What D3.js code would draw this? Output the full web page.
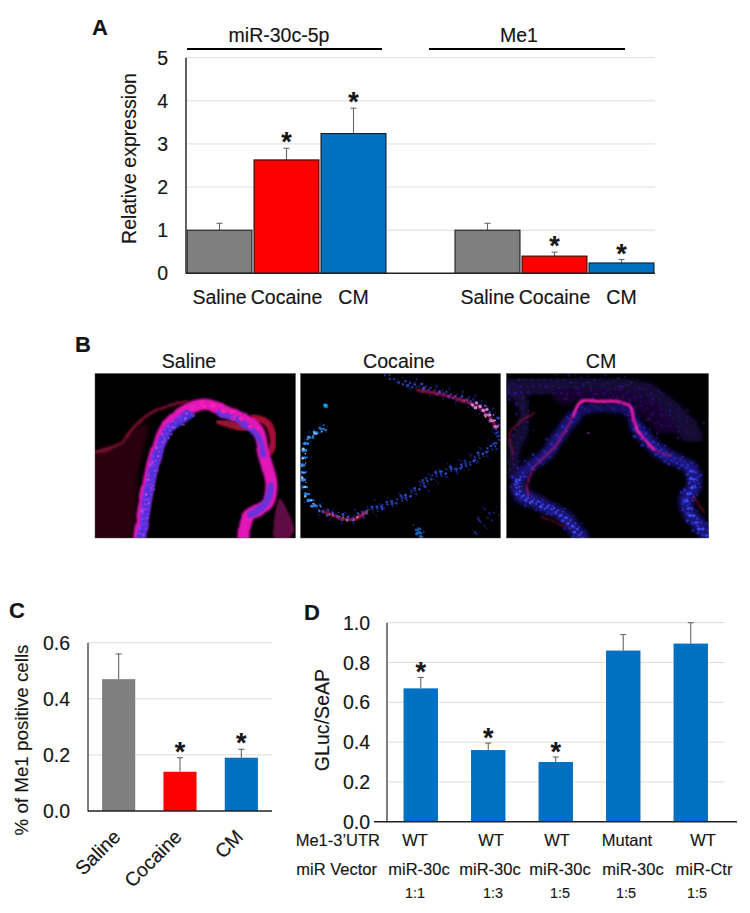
<!DOCTYPE html>
<html>
<head>
<meta charset="utf-8">
<script src="https://cdn.jsdelivr.net/npm/d3@7"></script>
<style>
html,body{margin:0;padding:0;background:#fff}
svg{display:block}
text{font-family:"Liberation Sans",Arial,sans-serif;fill:#151515;stroke:#151515;stroke-width:.15}
</style>
</head>
<body>
<div id="chart"></div>
<script>
// ---------- data ----------
const groupA = ["s1","c1","m1","gap","s2","c2","m2"];
const labelsA = ["Saline","Cocaine","CM","","Saline","Cocaine","CM"];
const valuesA = [1,2.63,3.24,null,1,0.4,0.24];
const errTopA = [1.16,2.9,3.83,null,1.16,0.49,0.32];
const starsA = [false,true,true,false,false,true,true];
const ticksA = [0,1,2,3,4,5];

const labelsC = ["Saline","Cocaine","CM"];
const valuesC = [0.47,0.14,0.19];
const errTopC = [0.56,0.19,0.22];
const starsC = [false,true,true];
const ticksC = [0,0.2,0.4,0.6];

const idsD = ["a","b","c","d","e"];
const valuesD = [0.67,0.36,0.30,0.86,0.895];
const errTopD = [0.725,0.395,0.325,0.94,1.0];
const starsD = [true,true,true,false,false];
const ticksD = [0,0.2,0.4,0.6,0.8,1.0];
const utrD = ["WT","WT","WT","Mutant","WT"];
const vectorD = ["miR-30c","miR-30c","miR-30c","miR-30c","miR-Ctr"];
const ratioD = ["1:1","1:3","1:5","1:5","1:5"];

const imageTitles = ["Saline","Cocaine","CM"];

// micrograph traces, in percent of each picture
const salineWall = [[22,100],[26,71],[30,49],[36,32],[46,22],[55,19],[69,25],[81,34],[84,49],[88,67],[86,79],[76,87],[74,100]];
const salineBlueL = [[23,100],[27,71],[31,49],[37,34],[47,25]];
const salineBlueT = [[62,24],[72,29],[81,38],[84,50]];
const salineBlueR = [[88,68],[85,79],[77,86]];
const salineOuter = [[0,48],[8,45],[14,42],[19,33],[31,22],[46,17]];
const salineRed = [[62,29],[70,32],[78,34]];
const salineBlob = [[79,27],[86,30],[89,42],[87,48]];
const salineHaze = [[0,48],[12,43],[19,33],[26,30],[22,60],[18,100],[0,100]];
const salineCorner = [[90,100],[92,76],[99,94],[97,100]];
const cocaineWall = [[13,33],[7,37],[3,43],[1.5,61],[4,75],[10,83],[26,88],[33,84],[45,79],[58,71],[66,63],[83,55],[98,41],[99,33],[90,20],[75,13],[60,8],[50,6]];
const cocaineRed = [[12,84],[26,89],[33,84]];
const cocaineRedTop = [[58,10],[75,14],[90,21],[98,33]];
const cocaineBright = [[85,18],[93,23],[98,33]];
const cocaineTop = [[41,0],[46,3],[50,6]];
const cocaineFleck = [[58,94],[61,99]];
const cocaineLowR = [[90,100],[93,84],[99,90]];
const cocaineDot = [[12,19],[13,20]];
const cmLining = [[11,74],[10,67],[13,58],[25,43],[33,26],[37,17],[46,17],[55,17],[61,19],[64,33],[73,46],[81,50]];
const cmBandL = [[38,100],[26,85],[12,77],[5,71],[8,61],[21,47],[33,26]];
const cmBandR = [[64,33],[79,50],[91,57],[93,69],[89,77],[99,98]];
const cmBandT = [[33,26],[38,22],[60,22],[64,33]];
const cmOuter = [[3,50],[2,35],[14,24]];
const cmOuter2 = [[17,87],[30,93]];
const cmOuter3 = [[92,74],[98,84]];
const cmTissueT = [[2,8],[25,6],[50,8],[72,14],[85,28],[92,38]];
const cmTissueL = [[2,8],[10,25],[4,45],[3,60]];
const cmTissueM = [[28,12],[50,12],[68,20],[80,34]];
const cmBlob = [[40,36],[41,36.5]];

// ---------- page ----------
const W = 750, H = 913;
const svg = d3.select("#chart").append("svg").attr("width",W).attr("height",H).attr("viewBox",[0,0,W,H]);
const GREY="#7f7f7f", RED="#ff0000", BLUE="#0070c0", GRID="#dcdcdc", AXIS="#3a3a3a";

function label(g,x,y,t,size,opts={}){
  const n=g.append("text").attr("x",x).attr("y",y).attr("font-size",size).attr("text-anchor",opts.anchor||"middle").text(t);
  if(opts.bold) n.attr("font-weight","bold");
  if(opts.rotate!==undefined) n.attr("transform",`rotate(${opts.rotate},${x},${y})`);
  return n;
}

function panel(cfg){
  const g=svg.append("g");
  const x=d3.scaleBand().domain(cfg.domain).range(cfg.xRange).paddingInner(cfg.pad).paddingOuter(cfg.pad/2);
  const y=d3.scaleLinear().domain(cfg.yDomain).range(cfg.yRange);
  g.selectAll(".grid").data(cfg.ticks.filter(t=>t>0)).join("line")
    .attr("x1",cfg.xRange[0]).attr("x2",cfg.xRange[1])
    .attr("y1",d=>y(d)).attr("y2",d=>y(d)).attr("stroke",GRID).attr("stroke-width",1);
  g.selectAll(".tick").data(cfg.ticks).join("text")
    .attr("x",cfg.tickX).attr("y",d=>y(d)+cfg.tickDy).attr("text-anchor","end")
    .attr("font-size",cfg.tickSize).text(d=>d3.format(cfg.tickFormat)(d));
  const rows=cfg.domain.map((k,i)=>({k,i,v:cfg.values[i],t:cfg.tops[i],s:cfg.stars[i]})).filter(r=>r.v!=null);
  const cx=r=>x(r.k)+x.bandwidth()/2;
  g.selectAll(".err").data(rows).join("line").attr("x1",cx).attr("x2",cx)
    .attr("y1",r=>y(r.t)).attr("y2",r=>y(r.v)).attr("stroke","#666").attr("stroke-width",1.1);
  g.selectAll(".cap").data(rows).join("line").attr("x1",r=>cx(r)-3).attr("x2",r=>cx(r)+3)
    .attr("y1",r=>y(r.t)).attr("y2",r=>y(r.t)).attr("stroke","#666").attr("stroke-width",1.1);
  g.selectAll(".bar").data(rows).join("rect")
    .attr("x",r=>x(r.k)).attr("width",x.bandwidth())
    .attr("y",r=>y(r.v)).attr("height",r=>y(0)-y(r.v))
    .attr("fill",r=>cfg.colors[r.i]).attr("stroke",cfg.barStroke||"none").attr("stroke-width",1);
  g.append("line").attr("x1",cfg.axisX).attr("x2",cfg.axisX).attr("y1",y(cfg.yDomain[1])).attr("y2",y(0)+.5)
    .attr("stroke",AXIS).attr("stroke-width",cfg.axisW||1.3);
  g.append("line").attr("x1",cfg.baseFrom).attr("x2",cfg.baseTo).attr("y1",y(0)).attr("y2",y(0))
    .attr("stroke","#222").attr("stroke-width",1.4);
  g.selectAll(".star").data(rows.filter(r=>r.s)).join("text")
    .attr("x",cx).attr("y",r=>y(r.t)+cfg.starDy).attr("text-anchor","middle")
    .attr("font-size",27).attr("font-weight","bold").attr("fill","#000").text("*");
  return {g,x,y};
}

// ---------- panel A ----------
const A=panel({domain:groupA,xRange:[186,655],pad:0.03,yDomain:[0,5],yRange:[273.3,57.7],
  values:valuesA,tops:errTopA,stars:starsA,colors:[GREY,RED,BLUE,null,GREY,RED,BLUE],barStroke:"#111",
  ticks:ticksA,tickX:168,tickDy:7,tickSize:19.5,tickFormat:"d",axisX:186,baseFrom:186,baseTo:655,starDy:3,axisW:1.6});
groupA.forEach((k,i)=>{ if(labelsA[i]) label(A.g,A.x(k)+A.x.bandwidth()/2,304,labelsA[i],19.5); });
label(A.g,136,158.5,"Relative expression",19.6,{rotate:-90});
label(svg,279,42,"miR-30c-5p",19.5);
label(svg,519,42,"Me1",19.5);
svg.append("line").attr("x1",187).attr("x2",382).attr("y1",49).attr("y2",49).attr("stroke","#000").attr("stroke-width",2);
svg.append("line").attr("x1",429).attr("x2",625).attr("y1",49).attr("y2",49).attr("stroke","#000").attr("stroke-width",2);
label(svg,92,35,"A",22,{anchor:"start",bold:true});
label(svg,75,352,"B",22,{anchor:"start",bold:true});
label(svg,9,618,"C",22,{anchor:"start",bold:true});
label(svg,304,620,"D",22,{anchor:"start",bold:true});

// ---------- panel B (micrographs) ----------
const defs=svg.append("defs");
function addFilter(id,blur,scale,freq){
  const f=defs.append("filter").attr("id",id).attr("x","-10%").attr("y","-10%").attr("width","120%").attr("height","120%");
  f.append("feTurbulence").attr("type","fractalNoise").attr("baseFrequency",freq).attr("numOctaves",2).attr("seed",7).attr("result","n");
  f.append("feDisplacementMap").attr("in","SourceGraphic").attr("in2","n").attr("scale",scale).attr("xChannelSelector","R").attr("yChannelSelector","G").attr("result","d");
  f.append("feGaussianBlur").attr("in","d").attr("stdDeviation",blur);
}
addFilter("soft",0.9,3,0.06);
addFilter("softer",2.5,6,0.04);
addFilter("dots",0.6,2,0.2);

const frames=[{x0:95,x1:295.5,tx:189},{x0:300.5,x1:500.5,tx:399},{x0:506.5,x1:708.5,tx:601}];
const imgY=[373.5,538];
const frac=v=>v-Math.floor(v);
function micrograph(i,draw){
  const fr=frames[i];
  defs.append("clipPath").attr("id","clip"+i).append("rect").attr("x",fr.x0).attr("y",imgY[0]).attr("width",fr.x1-fr.x0).attr("height",imgY[1]-imgY[0]);
  svg.append("rect").attr("x",fr.x0).attr("y",imgY[0]).attr("width",fr.x1-fr.x0).attr("height",imgY[1]-imgY[0]).attr("fill","#000");
  const g=svg.append("g").attr("clip-path",`url(#clip${i})`);
  const sx=d3.scaleLinear().domain([0,100]).range([fr.x0,fr.x1]);
  const sy=d3.scaleLinear().domain([0,100]).range(imgY);
  const line=d3.line().x(d=>sx(d[0])).y(d=>sy(d[1])).curve(d3.curveCatmullRom.alpha(.5));
  const closed=d3.line().x(d=>sx(d[0])).y(d=>sy(d[1])).curve(d3.curveCatmullRomClosed.alpha(.5));
  const stroke=(pts,color,w,filter,op=1)=>g.append("path").attr("d",line(pts)).attr("fill","none")
    .attr("stroke",color).attr("stroke-width",w).attr("stroke-linecap","round").attr("stroke-linejoin","round")
    .attr("stroke-opacity",op).attr("filter",filter?`url(#${filter})`:null);
  const fill=(pts,color,op,filter)=>g.append("path").attr("d",closed(pts)).attr("fill",color).attr("fill-opacity",op).attr("filter",`url(#${filter})`);
  // cell nuclei: evenly stepped along a trace, offset with a fixed golden-ratio sequence
  const cells=(pts,spacing,spread,color,r,op=1)=>{
    const p=g.append("path").attr("d",line(pts)).attr("fill","none").attr("stroke","none");
    const len=p.node().getTotalLength();
    const layer=g.append("g").attr("filter","url(#dots)");
    d3.range(0,len,spacing).forEach((l,k)=>{
      const a=p.node().getPointAtLength(l), dx=(frac(k*.618)-.5)*2*spread, dy=(frac(k*.755)-.5)*2*spread;
      layer.append("circle").attr("cx",a.x+dx).attr("cy",a.y+dy).attr("r",r*(.65+.7*frac(k*.381)))
        .attr("fill",color).attr("fill-opacity",op*(.55+.45*frac(k*.569)));
    });
    p.remove();
  };
  draw({stroke,fill,cells});
  label(svg,fr.tx,368,imageTitles[i],19.6);
  svg.append("rect").attr("x",fr.x0).attr("y",imgY[0]).attr("width",fr.x1-fr.x0).attr("height",imgY[1]-imgY[0]).attr("fill","none").attr("stroke","#555").attr("stroke-width",.5);
}

micrograph(0,({stroke,fill,cells})=>{
  fill(salineHaze,"#2a0008",.95,"softer");
  fill(salineCorner,"#70104f",.85,"soft");
  stroke(salineOuter,"#7c1230",3,"soft",.95);
  stroke(salineRed,"#a81838",7,"soft",.9);
  stroke(salineBlob,"#b01238",7,"soft",.95);
  stroke(salineWall,"#e414b8",12,"soft",1);
  stroke(salineBlueL,"#4a34e0",9,"soft",.95);
  stroke(salineBlueT,"#5a34e0",6,"soft",.9);
  stroke(salineBlueR,"#5a34e0",7,"soft",.9);
  cells(salineBlueL,2.5,4.5,"#8038e8",1.6,.9);
  cells(salineBlueL,6,5,"#e040d0",1.4,.7);
  cells(salineWall.slice(4,8),4,3,"#ff24b0",2,.7);
});

micrograph(1,({stroke,fill,cells})=>{
  cells(cocaineWall,1.6,7,"#1c2a98",1,.7);
  cells(cocaineWall.slice(0,6),1.8,3,"#2f90ff",1.4,1);
  cells(cocaineWall.slice(5),2,3.2,"#2e50e0",1.2,1);
  cells(cocaineWall.slice(0,6),6,2.5,"#d8f0ff",1,.9);
  stroke(cocaineRed,"#d82058",2.2,"soft",.9);
  cells(cocaineRed,5,1.5,"#e8c0e0",.9,.7);
  stroke(cocaineRedTop,"#b81858",2.4,"soft",.9);
  cells(cocaineBright,1.6,3,"#f090e0",1.4,.95);
  cells(cocaineTop,2,2,"#2c3cb0",1,.9);
  cells(cocaineFleck,1,3,"#2078e0",1.4,.9);
  cells(cocaineLowR,2,8,"#2030a0",1.1,.8);
  cells(cocaineDot,1,0,"#20a8ff",2,1);
});

micrograph(2,({stroke,fill,cells})=>{
  stroke(cmTissueT,"#16083c",22,"softer",.9);
  stroke(cmTissueL,"#16083c",14,"softer",.9);
  stroke(cmTissueM,"#1c0838",20,"softer",.8);
  stroke(cmBandL,"#1a1480",13,"softer",.95);
  stroke(cmBandR,"#1a1488",14,"softer",.95);
  stroke(cmBandT,"#1a1070",10,"softer",.85);
  cells(cmTissueT,1.8,13,"#2a1890",1.3,.6);
  cells(cmTissueL,2,9,"#2a1890",1.3,.6);
  cells(cmTissueM,2.2,11,"#451268",1.3,.5);
  cells(cmBandL,1.4,7,"#2a22b0",1.3,.8);
  cells(cmBandR,1.4,7,"#2a2ac0",1.4,.85);
  cells(cmBandT,1.8,5,"#2a1890",1.2,.75);
  cells(cmBandL.slice(0,5),2,3,"#3a50f0",1.3,.9);
  cells(cmBandR.slice(2),2,3,"#3a50f0",1.3,.9);
  stroke(cmLining,"#b01570",1.6,"soft",1);
  stroke(cmLining.slice(4,11),"#ff20c0",2.2,"soft",1);
  stroke(cmOuter,"#a01838",1.4,"soft",.9);
  stroke(cmOuter2,"#901838",1.3,"soft",.85);
  stroke(cmOuter3,"#a01838",1.3,"soft",.85);
  stroke(cmBlob,"#b038b8",6,"soft",.95);
});

// ---------- panel C ----------
const C=panel({domain:labelsC,xRange:[88,272],pad:0.46,yDomain:[0,0.6],yRange:[811,642.7],
  values:valuesC,tops:errTopC,stars:starsC,colors:[GREY,RED,BLUE],
  ticks:ticksC,tickX:70,tickDy:7,tickSize:19.5,tickFormat:".1f",axisX:88,baseFrom:88,baseTo:272,starDy:3});
labelsC.forEach(k=>{
  label(C.g,C.x(k)+C.x.bandwidth()/2+3,838,k,19.5,{anchor:"end",rotate:-45});
});
label(C.g,28,740,"% of Me1 positive cells",18.8,{rotate:-90});

// ---------- panel D ----------
const D=panel({domain:idsD,xRange:[387,724.5],pad:0.49,yDomain:[0,1],yRange:[821.7,622.7],
  values:valuesD,tops:errTopD,stars:starsD,colors:idsD.map(()=>BLUE),
  ticks:ticksD,tickX:370,tickDy:7,tickSize:19.5,tickFormat:".1f",axisX:387,baseFrom:374,baseTo:737,starDy:4});
label(D.g,329,720,"GLuc/SeAP",19.6,{rotate:-90});
const utrX=[415,491,557,627,703], vecX=[419,490,560,633,704], ratX=[415,493,560,626,697];
label(D.g,380,846,"Me1-3\u2019UTR",16.5,{anchor:"end"});
label(D.g,377,875,"miR Vector",16.5,{anchor:"end"});
utrD.forEach((t,i)=>label(D.g,utrX[i],846,t,16.5));
vectorD.forEach((t,i)=>label(D.g,vecX[i],875,t,16.5));
ratioD.forEach((t,i)=>label(D.g,ratX[i],898,t,14.4));
</script>
</body>
</html>
